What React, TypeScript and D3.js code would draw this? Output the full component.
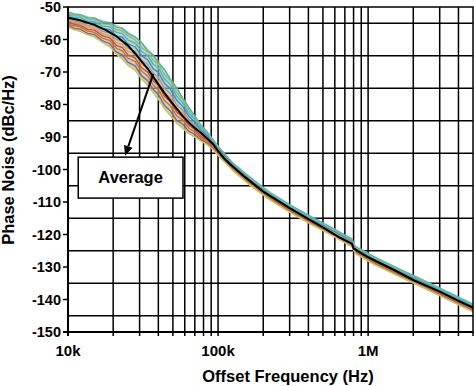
import React, { useEffect, useRef } from 'react';
import * as d3 from 'd3';

// offset frequencies (Hz) at which the individual traces were read
const TRACE_FREQ = [10e3, 11e3, 12e3, 13.5e3, 15e3, 17e3, 19e3, 21e3, 23e3, 25e3, 28e3, 31e3, 34e3, 37e3, 40e3, 44e3, 48e3, 53e3, 58e3, 64e3, 70e3, 77e3, 85e3, 93e3, 100e3, 125e3, 160e3, 220e3, 300e3, 420e3, 600e3, 780e3, 820e3, 1.1e6, 1.6e6, 2.3e6, 3.3e6, 5e6];

// outer edges of the spread of traces (dBc/Hz)
const UPPER_DB = [-51.4, -51.8, -52.2, -52.8, -53.3, -54.0, -54.7, -55.4, -56.3, -57.3, -59.0, -60.8, -62.6, -64.5, -66.3, -68.9, -71.4, -74.5, -77.4, -80.6, -83.4, -86.0, -88.4, -90.6, -92.6, -97.6, -101.8, -106.6, -110.5, -114.4, -118.1, -121.2, -123.2, -126.6, -130.2, -133.6, -137.1, -141.1];
const LOWER_DB = [-56.4, -57.0, -57.7, -58.6, -59.5, -61.0, -62.6, -64.6, -66.4, -68.0, -69.8, -72.3, -74.6, -76.6, -78.8, -81.6, -83.8, -86.0, -87.6, -89.1, -90.3, -91.4, -92.6, -94.0, -95.8, -100.5, -104.8, -109.5, -113.4, -117.2, -121.0, -124.1, -126.1, -129.5, -133.1, -136.5, -140.0, -144.0];

// individual measured traces
const TRACE_A = [-51.5, -52.2, -52.3, -53.3, -53.4, -54.6, -54.8, -56.2, -56.5, -58.1, -59.2, -61.0, -63.5, -64.8, -67.2, -69.2, -72.3, -74.8, -78.1, -81.0, -83.5, -86.4, -88.5, -90.9, -92.8, -98.0, -102.1, -107.0, -110.9, -114.6, -118.5, -121.4, -123.7, -126.9, -130.6, -134.0, -137.5, -141.5];
const TRACE_B = [-51.8, -52.6, -52.7, -53.8, -53.9, -55.2, -55.4, -57.0, -57.3, -58.9, -60.1, -62.6, -63.8, -66.4, -67.6, -70.8, -72.6, -76.3, -78.4, -81.9, -84.0, -86.9, -88.8, -91.2, -93.0, -98.3, -102.5, -107.3, -111.2, -115.0, -118.8, -121.8, -123.9, -127.3, -130.9, -134.3, -137.8, -141.8];
const TRACE_C = [-52.3, -53.2, -53.2, -54.4, -54.5, -55.9, -56.1, -57.8, -58.2, -60.1, -61.1, -63.7, -65.0, -67.6, -68.7, -72.1, -73.8, -77.4, -79.4, -82.8, -84.7, -87.5, -89.2, -91.6, -93.4, -98.5, -102.8, -107.6, -111.4, -115.3, -119.1, -122.0, -124.2, -127.6, -131.2, -134.6, -138.0, -142.0];
const TRACE_D = [-52.9, -53.7, -53.9, -55.0, -55.2, -56.7, -57.0, -58.9, -59.3, -61.3, -62.3, -65.0, -66.3, -69.0, -70.1, -73.5, -75.2, -78.7, -80.5, -83.7, -85.5, -88.1, -89.7, -91.9, -93.6, -98.7, -103.0, -107.8, -111.7, -115.5, -119.3, -122.3, -124.4, -127.8, -131.4, -134.8, -138.3, -142.3];
const TRACE_E = [-53.5, -54.4, -54.5, -55.7, -55.9, -57.5, -58.0, -60.0, -60.6, -62.6, -63.6, -66.4, -67.7, -70.4, -71.6, -75.0, -76.6, -80.1, -81.7, -84.7, -86.3, -88.7, -90.1, -92.4, -94.0, -99.0, -103.2, -108.1, -111.9, -115.7, -119.6, -122.5, -124.7, -128.0, -131.7, -135.0, -138.5, -142.6];
const TRACE_F = [-54.0, -54.9, -55.0, -56.3, -56.5, -58.2, -58.8, -60.9, -61.6, -63.6, -64.6, -67.5, -68.9, -71.6, -72.9, -76.3, -77.9, -81.2, -82.7, -85.6, -87.0, -89.2, -90.6, -92.7, -94.3, -99.3, -103.5, -108.3, -112.2, -116.0, -119.8, -122.8, -124.9, -128.3, -131.9, -135.3, -138.8, -142.8];
const TRACE_G = [-54.5, -55.4, -55.6, -56.9, -57.1, -58.9, -59.5, -61.8, -62.5, -64.7, -65.7, -68.7, -70.1, -72.8, -74.1, -77.5, -79.1, -82.3, -83.8, -86.4, -87.7, -89.8, -91.0, -93.0, -94.6, -99.5, -103.8, -108.6, -112.4, -116.3, -120.0, -123.0, -125.1, -128.5, -132.1, -135.6, -139.0, -143.0];
const TRACE_H = [-55.0, -55.9, -56.1, -57.4, -57.8, -59.6, -60.3, -62.7, -63.5, -65.7, -66.8, -69.8, -71.3, -74.0, -75.4, -78.8, -80.4, -83.5, -84.8, -87.3, -88.4, -90.3, -91.5, -93.4, -95.0, -99.7, -104.0, -108.7, -112.6, -116.5, -120.2, -123.2, -125.3, -128.7, -132.3, -135.7, -139.2, -143.2];
const TRACE_I = [-55.6, -56.6, -56.8, -58.1, -58.5, -60.4, -61.3, -63.8, -64.7, -67.0, -68.1, -71.2, -72.7, -75.4, -76.9, -80.3, -81.9, -84.9, -86.0, -88.3, -89.2, -90.9, -92.0, -93.7, -95.4, -100.0, -104.3, -109.0, -112.9, -116.7, -120.5, -123.5, -125.6, -129.0, -132.6, -136.0, -139.5, -143.5];
const TRACE_J = [-56.2, -57.0, -57.4, -58.6, -59.2, -61.0, -62.2, -64.5, -65.9, -67.9, -69.4, -72.2, -74.1, -76.4, -78.3, -81.4, -83.3, -85.8, -87.2, -89.0, -90.0, -91.3, -92.4, -94.0, -95.7, -100.2, -104.5, -109.2, -113.1, -116.9, -120.7, -123.7, -125.8, -129.2, -132.8, -136.2, -139.7, -143.7];

const TRACE_COLORS = ['#4bacc6', '#9bbb59', '#2fc0d6', '#4f81bd', '#8fa0b0', '#f79646', '#c0504d', '#e46c0a', '#8064a2', '#d9c246'];

// the black average curve
const AVG_FREQ = [10e3, 12e3, 15e3, 18e3, 21e3, 25e3, 28e3, 31e3, 34e3, 37e3, 40e3, 44e3, 48e3, 53e3, 58e3, 64e3, 70e3, 77e3, 85e3, 93e3, 100e3, 110e3, 120e3, 150e3, 200e3, 300e3, 400e3, 500e3, 650e3, 780e3, 800e3, 1e6, 1.5e6, 2e6, 3e6, 4e6, 5e6];
const AVG_DB = [-53.3, -54.1, -55.5, -57.2, -59.0, -61.8, -64.3, -66.8, -69.0, -71.5, -73.8, -76.5, -78.8, -81.3, -83.5, -85.6, -87.2, -88.8, -90.5, -92.3, -94.3, -96.6, -98.3, -102.2, -106.8, -111.9, -115.3, -117.8, -121.0, -122.8, -124.3, -127.0, -131.0, -134.0, -137.6, -140.4, -142.5];

const Y_TICKS = [-50, -60, -70, -80, -90, -100, -110, -120, -130, -140, -150];
const Y_GRID = [-55, -65, -75, -85, -95, -105, -115, -125, -135, -145];
const X_TICKS = [1e4, 2e4, 3e4, 4e4, 5e4, 6e4, 7e4, 8e4, 9e4, 1e5, 2e5, 3e5, 4e5, 5e5, 6e5, 7e5, 8e5, 9e5, 1e6, 2e6, 3e6, 4e6, 5e6];
const X_LABELS = [1e4, 1e5, 1e6];
const X_LABEL_TEXT = ['10k', '100k', '1M'];

// annotation, in data units
const ARROW_FROM = [37e3, -70.6];
const ARROW_TO = [24e3, -95.8];
const BOX_FREQ = [11.7e3, 58.4e3];
const BOX_DB = [-96.2, -108.8];

const W = 474;
const H = 386;

const App = () => {
  const ref = useRef<SVGSVGElement>(null);

  useEffect(() => {
    const svg = d3.select(ref.current);
    svg.selectAll('*').remove();

    const font = "'Liberation Sans', Arial, sans-serif";
    const x = d3.scaleLog().domain([1e4, 5e6]).range([68, 473]);
    const y = d3.scaleLinear().domain([-150, -50]).range([332, 7]);
    const [x0, x1] = x.range();
    const [y0, y1] = y.range();

    svg.append('rect').attr('width', W).attr('height', H).attr('fill', '#fff');

    // grid
    const grid = svg.append('g').attr('stroke', '#000').attr('stroke-width', 1.5);
    grid.append('g').selectAll('line').data(Y_GRID).enter().append('line')
      .attr('x1', x0).attr('x2', x1)
      .attr('y1', d => y(d)).attr('y2', d => y(d));
    grid.append('g').selectAll('line').data(X_TICKS.slice(1, -1)).enter().append('line')
      .attr('x1', d => x(d)).attr('x2', d => x(d))
      .attr('y1', y1).attr('y2', y0);

    // spread of traces
    const band = d3.area<number>()
      .x(d => x(d))
      .y0((_, i) => y(LOWER_DB[i]))
      .y1((_, i) => y(UPPER_DB[i]));
    svg.append('path').datum(TRACE_FREQ).attr('d', band)
      .attr('fill', '#a7bfa8').attr('opacity', 0.65);

    const traces = [TRACE_A, TRACE_B, TRACE_C, TRACE_D, TRACE_E, TRACE_F, TRACE_G, TRACE_H, TRACE_I, TRACE_J];
    const traceLine = d3.line<number>()
      .x((_, i) => x(TRACE_FREQ[i]))
      .y(d => y(d));
    svg.append('g').selectAll('path').data(traces).enter().append('path')
      .attr('d', d => traceLine(d))
      .attr('fill', 'none')
      .attr('stroke', (_, i) => TRACE_COLORS[i])
      .attr('stroke-width', 1.4);

    // average
    const avgLine = d3.line<number>()
      .x((_, i) => x(AVG_FREQ[i]))
      .y(d => y(d));
    svg.append('path').datum(AVG_DB).attr('d', avgLine)
      .attr('fill', 'none').attr('stroke', '#000').attr('stroke-width', 2);

    // frame and axes
    svg.append('rect')
      .attr('x', x0).attr('y', y1).attr('width', x1 - x0).attr('height', y0 - y1)
      .attr('fill', 'none').attr('stroke', '#000').attr('stroke-width', 1.5);
    svg.append('line').attr('x1', x0).attr('x2', x0).attr('y1', y1).attr('y2', y0 + 4)
      .attr('stroke', '#000').attr('stroke-width', 2);
    svg.append('line').attr('x1', x0 - 5).attr('x2', x1).attr('y1', y0).attr('y2', y0)
      .attr('stroke', '#000').attr('stroke-width', 2);

    svg.append('g').selectAll('line').data(Y_TICKS).enter().append('line')
      .attr('x1', x0 - 5).attr('x2', x0)
      .attr('y1', d => y(d)).attr('y2', d => y(d))
      .attr('stroke', '#000').attr('stroke-width', 1.5);
    svg.append('g').selectAll('line').data(X_TICKS).enter().append('line')
      .attr('x1', d => x(d)).attr('x2', d => x(d))
      .attr('y1', y0).attr('y2', y0 + 4)
      .attr('stroke', '#000').attr('stroke-width', 1.5);

    svg.append('g').selectAll('text').data(Y_TICKS).enter().append('text')
      .attr('x', 61).attr('y', d => y(d)).attr('dy', '0.36em')
      .attr('text-anchor', 'end')
      .attr('font-family', font).attr('font-weight', 'bold').attr('font-size', 14.5)
      .text(d => d);
    svg.append('g').selectAll('text').data(X_LABELS).enter().append('text')
      .attr('x', d => x(d)).attr('y', 356)
      .attr('text-anchor', 'middle')
      .attr('font-family', font).attr('font-weight', 'bold').attr('font-size', 15)
      .text((_, i) => X_LABEL_TEXT[i]);

    svg.append('text')
      .attr('x', 288).attr('y', 382)
      .attr('text-anchor', 'middle')
      .attr('font-family', font).attr('font-weight', 'bold').attr('font-size', 16.5)
      .text('Offset Frequency (Hz)');
    svg.append('text')
      .attr('transform', 'translate(14,160) rotate(-90)')
      .attr('text-anchor', 'middle')
      .attr('font-family', font).attr('font-weight', 'bold').attr('font-size', 16.5)
      .text('Phase Noise (dBc/Hz)');

    // "Average" call-out
    const bx0 = x(BOX_FREQ[0]);
    const bx1 = x(BOX_FREQ[1]);
    const by0 = y(BOX_DB[0]);
    const by1 = y(BOX_DB[1]);
    svg.append('rect')
      .attr('x', bx0).attr('y', by0).attr('width', bx1 - bx0).attr('height', by1 - by0)
      .attr('fill', '#fff').attr('stroke', '#000').attr('stroke-width', 1.5);
    svg.append('text')
      .attr('x', (bx0 + bx1) / 2).attr('y', by0 + 26)
      .attr('text-anchor', 'middle')
      .attr('font-family', font).attr('font-weight', 'bold').attr('font-size', 16.5)
      .text('Average');

    const ax = x(ARROW_FROM[0]);
    const ay = y(ARROW_FROM[1]);
    const tx = x(ARROW_TO[0]);
    const ty = y(ARROW_TO[1]);
    const len = Math.hypot(tx - ax, ty - ay);
    const ux = (tx - ax) / len;
    const uy = (ty - ay) / len;
    const head = 10;
    const half = 4.5;
    const bx = tx - ux * head;
    const by = ty - uy * head;
    svg.append('line')
      .attr('x1', ax).attr('y1', ay).attr('x2', bx).attr('y2', by)
      .attr('stroke', '#000').attr('stroke-width', 2);
    svg.append('path')
      .attr('d', `M${tx},${ty}L${bx - uy * half},${by + ux * half}L${bx + uy * half},${by - ux * half}Z`)
      .attr('fill', '#000');
  }, []);

  return (
    <svg ref={ref} width={W} height={H} style={{ position: 'absolute', left: 0, top: 0, display: 'block' }} />
  );
};

export default App;
